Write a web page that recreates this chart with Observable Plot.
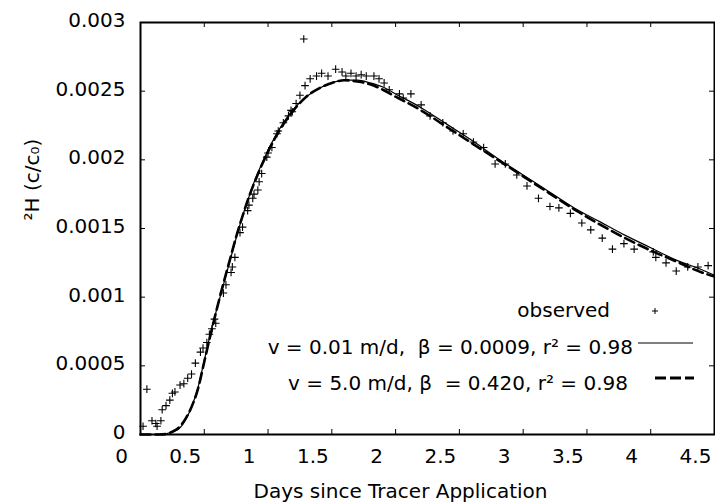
<!DOCTYPE html>
<html><head><meta charset="utf-8">
<script src="https://cdn.jsdelivr.net/npm/d3@7"></script>
<script src="https://cdn.jsdelivr.net/npm/@observablehq/plot@0.6"></script>
<style>
body{margin:0;background:#fff;}
#wrap{position:relative;width:715px;height:504px;font-family:"DejaVu Sans",sans-serif;color:#000;}
.lg{position:absolute;font-size:20px;line-height:22px;white-space:pre;color:#000;}
#wrap svg.samp{position:absolute;left:0;top:0;overflow:visible;}
</style></head><body>
<div id="wrap"></div>
<script>
// observed tracer concentration
const obsDays = [0.02,0.05,0.09,0.12,0.13,0.16,0.17,0.20,0.23,0.25,0.27,0.31,0.34,0.37,0.40,0.43,0.47,0.49,0.52,0.54,0.56,0.58,0.59,
  0.65,0.67,0.71,0.72,0.74,0.78,0.80,0.84,0.85,0.88,0.89,0.92,0.93,0.95,0.99,1.00,1.03,1.07,1.08,1.12,1.16,1.18,1.19,
  1.22,1.25,1.28,1.29,1.33,1.38,1.42,1.47,1.53,1.58,1.61,1.65,1.69,1.73,1.77,1.83,1.87,1.91,1.95,2.03,2.06,2.12,
  2.20,2.27,2.37,2.45,2.53,2.61,2.69,2.78,2.86,2.95,3.03,3.12,3.21,3.28,3.37,3.46,3.53,3.62,3.70,3.79,3.87,
  4.02,4.04,4.12,4.20,4.29,4.37,4.45];
const obsConc = [0.00006,0.00033,0.00010,0.00008,0.00006,0.00010,0.00018,0.00021,0.00025,0.00030,0.00031,0.00036,0.00037,0.00041,0.00044,0.00052,0.00060,0.00063,0.00067,0.00073,0.00077,0.00084,0.00081,
  0.00103,0.00109,0.00118,0.00122,0.00129,0.00147,0.00151,0.00163,0.00167,0.00172,0.00175,0.00178,0.00184,0.00190,0.00202,0.00205,0.00209,0.00219,0.00221,0.00227,0.00232,0.00236,0.00235,
  0.00241,0.00247,0.00288,0.00254,0.00259,0.00261,0.00263,0.00261,0.00266,0.00264,0.00261,0.00263,0.00261,0.00262,0.00261,0.00261,0.00259,0.00256,0.00251,0.00248,0.00245,0.00248,
  0.00240,0.00232,0.00227,0.00221,0.00219,0.00213,0.00209,0.00197,0.00197,0.00189,0.00181,0.00172,0.00166,0.00165,0.00161,0.00154,0.00149,0.00143,0.00135,0.00139,0.00135,
  0.00133,0.00129,0.00125,0.00119,0.00122,0.00122,0.00123];
// fitted curves
const fitDays = [0,0.15,0.2,0.25,0.3,0.35,0.4,0.45,0.5,0.55,0.6,0.65,0.7,0.75,0.8,0.85,0.9,0.95,1.0,1.05,1.1,1.2,1.3,1.4,1.5,1.6,1.7,1.8,1.9,2.0,
  2.2,2.4,2.6,2.8,3.0,3.2,3.4,3.6,3.8,4.0,4.2,4.4,4.5];
const fitSlow = [0,0,0.000005,0.00002,0.00004,0.0001,0.0002,0.00034,0.00054,0.00074,0.00092,0.00109,0.00126,0.00143,0.00159,0.00173,0.00186,0.00197,0.00207,0.00216,0.00224,0.00237,0.00246,0.00252,0.00256,0.00258,0.00258,0.00256,0.00253,0.00248,
  0.00238,0.00226,0.00214,0.00201,0.00189,0.00177,0.00165,0.00155,0.00145,0.00136,0.00127,0.00120,0.00116];
const fitFast = [0,0,0.000003,0.00002,0.00005,0.00011,0.0002,0.00033,0.00053,0.00073,0.00092,0.0011,0.00127,0.00144,0.00159,0.00173,0.00185,0.00196,0.00206,0.00215,0.00223,0.00236,0.00246,0.00252,0.00256,0.00258,0.00257,0.00255,0.00251,0.00246,
  0.00236,0.00224,0.00212,0.00200,0.00188,0.00176,0.00164,0.00153,0.00143,0.00134,0.00126,0.00118,0.00115];
const xTicks = [0,0.5,1,1.5,2,2.5,3,3.5,4,4.5];
const yTicks = [0,0.0005,0.001,0.0015,0.002,0.0025,0.003];
const xLabel = "Days since Tracer Application";
const yLabel = "²H (c/c₀)";
const legendLabels = ["observed", "v = 0.01 m/d,  β = 0.0009, r² = 0.98", "v = 5.0 m/d, β  = 0.420, r² = 0.98"];

const W = 715, H = 504, mL = 140, mR = 1, mT = 22, mB = 70;
const ph = H - mT - mB, pw = W - mL - mR;
const obs = obsDays.map((d, i) => ({d, c: obsConc[i]}));
const slow = fitDays.map((d, i) => ({d, c: fitSlow[i]}));
const fast = fitDays.map((d, i) => ({d, c: fitFast[i]}));
const FS = 20;

const chart = Plot.plot({
  width: W, height: H,
  marginLeft: mL, marginRight: mR, marginTop: mT, marginBottom: mB,
  style: {fontFamily: "DejaVu Sans", fontSize: FS + "px", color: "#000", background: "#fff"},
  x: {domain: [0, 4.5]},
  y: {domain: [0, 0.003]},
  marks: [
    Plot.line(fast, {x: "d", y: "c", stroke: "#000", strokeWidth: 2.6, strokeDasharray: "10,5", curve: "monotone-x"}),
    Plot.line(slow, {x: "d", y: "c", stroke: "#000", strokeWidth: 1.2, curve: "monotone-x"}),
    Plot.dot(obs, {x: "d", y: "c", symbol: "plus", r: 2.6, stroke: "#000", strokeWidth: 1.1}),
    Plot.tickX(xTicks, {x: d => d, insetTop: ph - 5, stroke: "#000"}),
    Plot.tickX(xTicks, {x: d => d, insetBottom: ph - 5, stroke: "#000"}),
    Plot.tickY(yTicks, {y: d => d, insetRight: pw - 5, stroke: "#000"}),
    Plot.tickY(yTicks, {y: d => d, insetLeft: pw - 5, stroke: "#000"}),
    Plot.axisX({ticks: xTicks, tickSize: 0, tickPadding: 14, dx: -19, tickFormat: d => String(d), label: null, fontSize: FS, fill: "#000"}),
    Plot.axisY({ticks: yTicks, tickSize: 0, tickPadding: 15, dy: -2, tickFormat: d => String(d), label: null, fontSize: FS, fill: "#000"}),
    Plot.frame({stroke: "#000", strokeWidth: 2}),
    Plot.text([xLabel], {text: d => d, frameAnchor: "bottom", dy: 57, dx: -27, lineAnchor: "middle", fontSize: FS, fill: "#000"}),
    Plot.text([yLabel], {text: d => d, frameAnchor: "left", rotate: -90, dx: -108, dy: -8, fontSize: FS, fill: "#000"})
  ]
});
const wrap = document.getElementById("wrap");
wrap.appendChild(chart);

// legend
const rows = [{right: 105, cy: 310}, {right: 82, cy: 347}, {right: 87, cy: 383}];
legendLabels.forEach((t, i) => {
  const s = document.createElement("div");
  s.className = "lg";
  s.textContent = t;
  s.style.right = rows[i].right + "px";
  s.style.top = (rows[i].cy - 11) + "px";
  wrap.appendChild(s);
});
const samp = d3.select(wrap).append("svg").attr("class", "samp").attr("width", W).attr("height", H);
samp.append("path").attr("d", "M652,311h6M655,308v6").attr("stroke", "#000").attr("stroke-width", 1).attr("fill", "none");
samp.append("line").attr("x1", 638).attr("x2", 693).attr("y1", 343).attr("y2", 343).attr("stroke", "#000").attr("stroke-width", 1.2);
samp.append("line").attr("x1", 655).attr("x2", 694).attr("y1", 378).attr("y2", 378).attr("stroke", "#000").attr("stroke-width", 2.8).attr("stroke-dasharray", "11,4");
</script>
</body></html>
